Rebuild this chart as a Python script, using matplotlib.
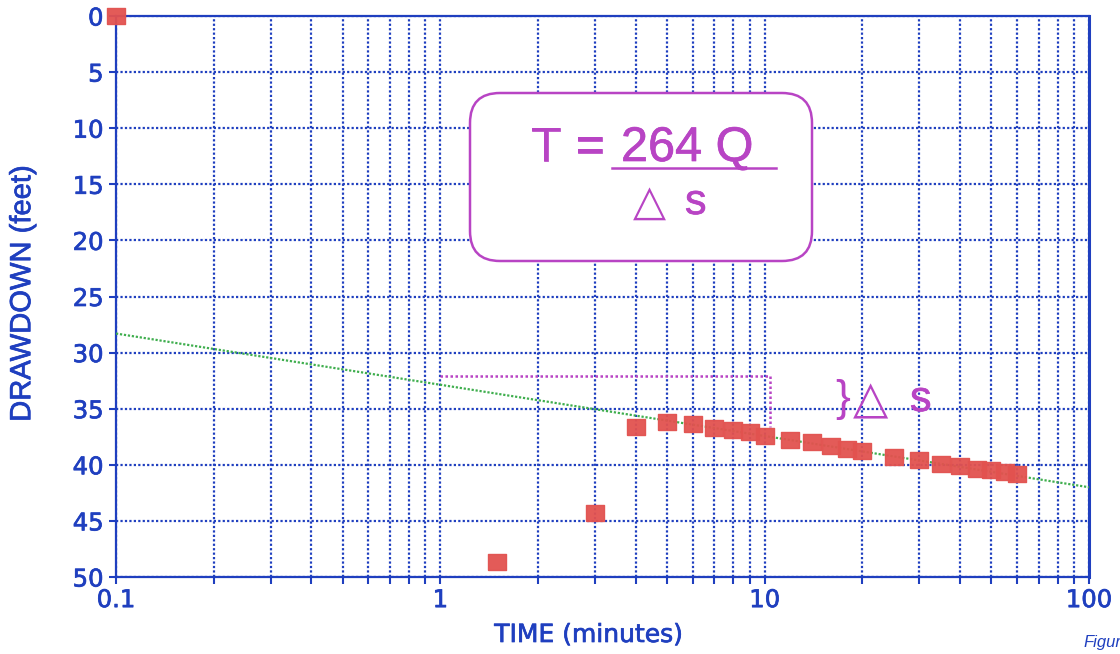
import matplotlib
matplotlib.use('Agg')
import matplotlib.pyplot as plt
import matplotlib.patheffects as pe
from matplotlib.patches import FancyBboxPatch
from matplotlib.ticker import LogLocator, FixedLocator, NullFormatter, FixedFormatter

# pumping test data
time_min = [0.1, 1.5, 3, 4, 5, 6, 7, 8, 9, 10, 12, 14, 16, 18, 20,
            25, 30, 35, 40, 45, 50, 55, 60]
drawdown_ft = [0.0, 48.7, 44.3, 36.6, 36.2, 36.4, 36.7, 36.9, 37.1, 37.4, 37.8, 38.0,
               38.3, 38.6, 38.8, 39.3, 39.6, 39.9, 40.1, 40.4, 40.5, 40.6, 40.8]

# straight line fit through the late data
fit_t = [0.1, 100]
fit_s = [28.3, 42.0]

# delta s bracket (one log cycle)
bracket_t = [1.0, 10.4, 10.4]
bracket_s = [32.1, 32.1, 36.6]

yticks = [0, 5, 10, 15, 20, 25, 30, 35, 40, 45, 50]
xtick_vals = [0.1, 1, 10, 100]
xtick_labels = ['0.1', '1', '10', '100']

blue = '#1f3fbf'
magenta = '#b844c4'
red = '#e2524f'
green = '#3fae4e'
fonts = ['Liberation Sans', 'DejaVu Sans']
wide = ['DejaVu Sans']
plt.rcParams['font.family'] = fonts

W, H = 1120, 654
fig = plt.figure(figsize=(11.2, 6.54), dpi=100)
ax = fig.add_axes([116/W, 1-577/H, (1089-116)/W, (577-16)/H])

ax.set_xscale('log')
ax.set_xlim(0.1, 100)
ax.set_ylim(50, 0)

ax.xaxis.set_major_locator(FixedLocator(xtick_vals))
ax.xaxis.set_major_formatter(FixedFormatter(xtick_labels))
ax.xaxis.set_minor_locator(LogLocator(base=10, subs=range(2, 10)))
ax.xaxis.set_minor_formatter(NullFormatter())
ax.set_yticks(yticks)

dots = (0, (1, 1))
ax.grid(True, which='major', color=blue, linestyle=dots, linewidth=1.6)
ax.grid(True, which='minor', axis='x', color=blue, linestyle=dots, linewidth=1.6)
ax.set_axisbelow(True)

for sp in ax.spines.values():
    sp.set_color(blue)
    sp.set_linewidth(1.6)
ax.spines['right'].set_linewidth(2.2)

ax.tick_params(which='both', colors=blue, labelcolor=blue, width=1.5, length=5,
               direction='out', labelsize=17.5)
ax.tick_params(axis='x', which='major', pad=3)
ax.tick_params(axis='y', pad=4)

# printed look: slightly heavier strokes
bold = [pe.withStroke(linewidth=0.5, foreground=blue)]
for lbl in ax.get_xticklabels() + ax.get_yticklabels():
    lbl.set_family(wide)
    lbl.set_path_effects(bold)

ax.set_xlabel('TIME (minutes)', color=blue, fontsize=18, family=wide, path_effects=bold)
ax.set_ylabel('DRAWDOWN (feet)', color=blue, fontsize=21, path_effects=bold)
ax.xaxis.set_label_coords(0.486, -0.082)
ax.yaxis.set_label_coords(-0.082, 0.505)

ax.plot(fit_t, fit_s, color=green, linestyle=(0, (1, 0.8)), linewidth=1.6, zorder=3)
ax.plot(bracket_t, bracket_s, color=magenta, linestyle=(0, (1, 1)), linewidth=1.8, zorder=3)
rect = [(-1.2, -1), (1.2, -1), (1.2, 1), (-1.2, 1), (-1.2, -1)]
ax.plot(time_min, drawdown_ft, linestyle='none', marker=rect, markersize=13,
        color=red, markeredgecolor=red, alpha=0.95, zorder=4, clip_on=False)

# formula box
box = FancyBboxPatch((500/W, 1-231/H), 282/W, 108/H,
                     boxstyle='round,pad=0,rounding_size=0.045',
                     transform=fig.transFigure, facecolor='white', edgecolor=magenta,
                     linewidth=1.8, mutation_aspect=W/H, zorder=5)
box.set_boxstyle('round', pad=30/W, rounding_size=30/W)
fig.patches.append(box)

mag_fx = [pe.withStroke(linewidth=0.5, foreground=magenta)]
fig.text(531/W, 1-161/H, 'T', color=magenta, fontsize=35, ha='left', va='baseline',
         zorder=10, path_effects=mag_fx)
fig.text(576/W, 1-161/H, '=', color=magenta, fontsize=35, ha='left', va='baseline',
         zorder=10, path_effects=mag_fx)
fig.text(621/W, 1-161/H, '264 Q', color=magenta, fontsize=35, ha='left', va='baseline',
         zorder=10, path_effects=mag_fx)
fig.add_artist(plt.Line2D([612/W, 776/W], [1-168/H, 1-168/H], transform=fig.transFigure,
                          color=magenta, linewidth=1.8, zorder=10))
fig.text(649/W, 1-203/H, '\u25b3', color=magenta, fontsize=31, ha='center', va='center',
         family=wide, zorder=10)
fig.text(685/W, 1-203/H, 's', color=magenta, fontsize=31, ha='left', va='center',
         zorder=10, path_effects=mag_fx)

fig.text(835/W, 1-400/H, '}', color=magenta, fontsize=32, ha='left', va='center')
fig.text(870/W, 1-401/H, '\u25b3', color=magenta, fontsize=33, ha='center', va='center',
         family=wide)
fig.text(910/W, 1-400/H, 's', color=magenta, fontsize=31, ha='left', va='center',
         path_effects=mag_fx)

fig.text(1083/W, 1-643/H, 'Figur', color=blue, fontsize=12, style='italic',
         ha='left', va='center')

fig.savefig('out.png', dpi=100)
